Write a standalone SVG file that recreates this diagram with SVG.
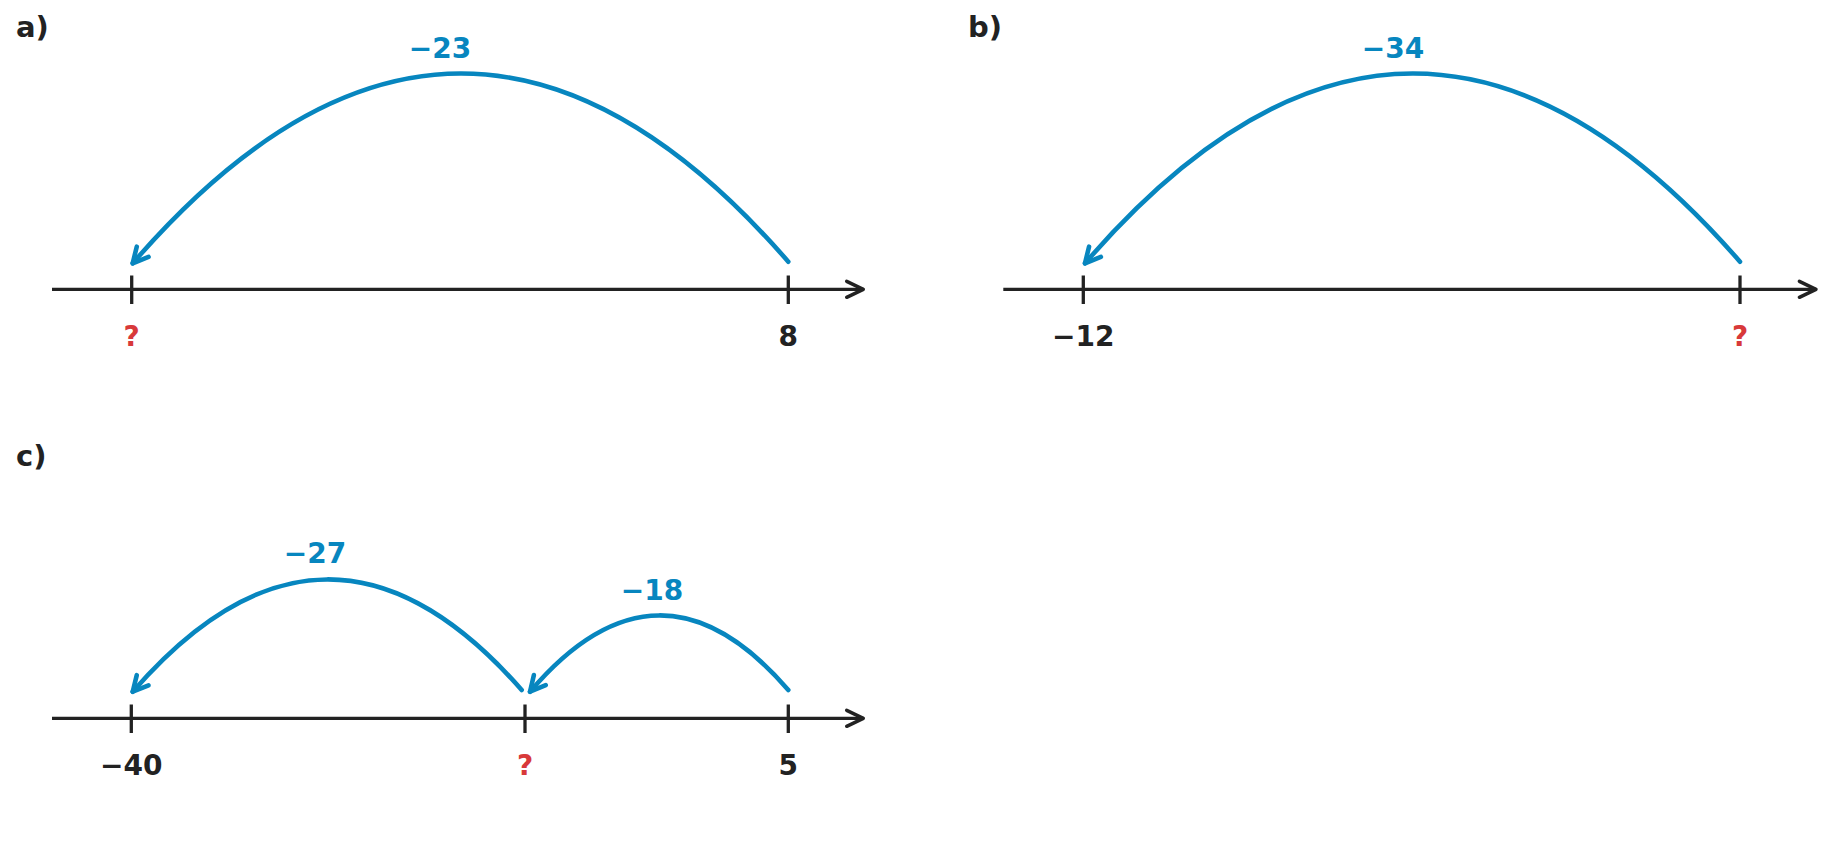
<svg xmlns="http://www.w3.org/2000/svg" width="1848" height="844" viewBox="0 0 1848 844">
  <style>
    text { font-family: "DejaVu Sans", "Liberation Sans", sans-serif; font-weight: bold; font-size: 28px; }
    .panel { fill: #222222; font-size: 29px; }
    .num { fill: #222222; text-anchor: middle; }
    .unknown { fill: #d8393a; text-anchor: middle; }
    .jump-label { fill: #0786bf; text-anchor: middle; }
    .axis { stroke: #222222; stroke-width: 3.3; fill: none; marker-end: url(#axisHead); }
    .tick { stroke: #222222; stroke-width: 3.3; }
    .jump { stroke: #0786bf; stroke-width: 4.6; fill: none; stroke-linecap: round; marker-end: url(#jumpHead); }
  </style>
  <defs>
    <marker id="axisHead" markerUnits="userSpaceOnUse" viewBox="-20 -12 24 24" refX="0" refY="0" markerWidth="24" markerHeight="24" orient="auto" overflow="visible">
      <path d="M-16.6,-8 L0,0 L-16.6,8" fill="none" stroke="#222222" stroke-width="3.5" stroke-linecap="round" stroke-linejoin="round"/>
    </marker>
    <marker id="jumpHead" markerUnits="userSpaceOnUse" viewBox="-20 -12 24 24" refX="0" refY="0" markerWidth="24" markerHeight="24" orient="auto" overflow="visible">
      <path d="M-15.2,-7.8 L0,0 L-15.2,7.8" fill="none" stroke="#0786bf" stroke-width="4.6" stroke-linecap="round" stroke-linejoin="round"/>
    </marker>
  </defs>

  <g id="panel-a">
    <text class="panel" x="16" y="37">a)</text>
    <line class="axis" x1="52" y1="289.3" x2="863.3" y2="289.3"/>
    <line class="tick" x1="131.7" y1="275.5" x2="131.7" y2="304"/>
    <line class="tick" x1="788.3" y1="275.5" x2="788.3" y2="304"/>
    <text class="unknown" x="131.7" y="346">?</text>
    <text class="num" x="788.3" y="346">8</text>
    <text class="jump-label" x="440" y="58.3">−23</text>
  </g>

  <g id="panel-b">
    <text class="panel" x="968" y="37">b)</text>
    <line class="axis" x1="1003.3" y1="289.3" x2="1816" y2="289.3"/>
    <line class="tick" x1="1083.3" y1="275.5" x2="1083.3" y2="304"/>
    <line class="tick" x1="1740" y1="275.5" x2="1740" y2="304"/>
    <text class="num" x="1083.3" y="346">−12</text>
    <text class="unknown" x="1740" y="346">?</text>
    <text class="jump-label" x="1393" y="58.3">−34</text>
  </g>

  <g id="panel-c">
    <text class="panel" x="16" y="466">c)</text>
    <line class="axis" x1="52" y1="718.3" x2="863.3" y2="718.3"/>
    <line class="tick" x1="131.3" y1="704.5" x2="131.3" y2="733"/>
    <line class="tick" x1="525" y1="704.5" x2="525" y2="733"/>
    <line class="tick" x1="788.3" y1="704.5" x2="788.3" y2="733"/>
    <text class="num" x="131.3" y="775">−40</text>
    <text class="unknown" x="525" y="775">?</text>
    <text class="num" x="788.3" y="775">5</text>
    <text class="jump-label" x="315" y="562.7">−27</text>
    <text class="jump-label" x="652" y="600">−18</text>
  </g>

  <g id="connectors">
    <path class="jump" d="M788.3,261.7 Q460.5,-115.4 132.7,263.3"/>
    <path class="jump" d="M1740,261.7 Q1412.5,-115.4 1085,263.3"/>
    <path class="jump" d="M521.7,690 Q327,468 132.7,691.7"/>
    <path class="jump" d="M788.3,690 Q659,540 530,691.7"/>
  </g>
</svg>
